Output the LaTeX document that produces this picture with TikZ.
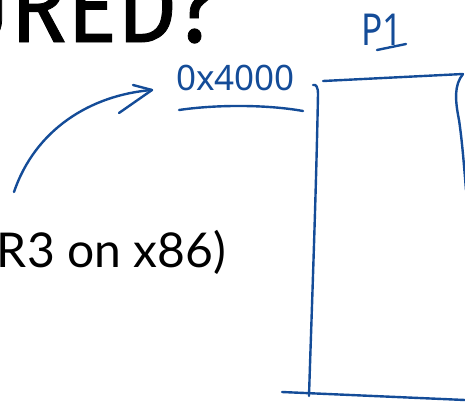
\documentclass[tikz,border=0pt]{standalone}
\usepackage{fontspec}
\usepackage{graphicx}
\setmainfont{Lato}
\newfontfamily\titlefont{Fira Sans}[FakeBold=0.8]
\newfontfamily\handfont{Noto Sans}
\usetikzlibrary{positioning}
\usetikzlibrary{calc}
\definecolor{ink}{RGB}{20,76,152}

\begin{document}
\begin{tikzpicture}[x=1pt, y=-1pt,
    pen/.style={draw=ink, line width=2.4pt, line cap=round, line join=round},
    hand/.style={text=ink, inner sep=0pt}]

    \useasboundingbox (0,0) rectangle (465,402);
    \clip (0,0) rectangle (465,402);

    % slide text
    \node [anchor=base west, inner sep=0pt, font=\titlefont\fontsize{104}{104}\selectfont] (title) at (-52,42) {\scalebox{0.9}[1]{URED?}};
    \node [anchor=base east, inner sep=0pt, font=\fontsize{48}{48}\selectfont] (cr) at (226,267) {R3 on x86)};

    % ink
    \node [hand, anchor=base west, font=\handfont\fontsize{35}{35}\selectfont] (addr) at (176,90) {0x4000};
    \node [hand, anchor=base west, font=\handfont\fontsize{44}{44}\selectfont] (p1) at (361,45) {\scalebox{0.8}[1]{P1}};

    \coordinate (tl) at (318,94);
    \coordinate (tr) at (463,74);
    \coordinate (bl) at (309,396);
    \coordinate (start) at (14,192);
    \coordinate (tip) at (152,90);

    \draw [pen] (start) .. controls (35,130) and (90,95) .. (tip);
    \draw [pen] (tip) -- (133,85);
    \draw [pen] (tip) -- (119,113);

    \draw [pen] (179,110) .. controls (220,104) and (270,105) .. (303,111);
    \draw [pen] (377,50) -- (406,44);

    \draw [pen] (313,85) .. controls (316,84) and (318,87) .. (tl);
    \draw [pen] (tl) .. controls (316,200) and (311,330) .. (bl);
    \draw [pen] (323,81) -- (tr);
    \draw [pen] (tr) .. controls (454,85) and (455,100) .. (459,120) .. controls (462,140) and (464,165) .. (466,190);
    \draw [pen] (282,392) -- (465,400);

\end{tikzpicture}
\end{document}
